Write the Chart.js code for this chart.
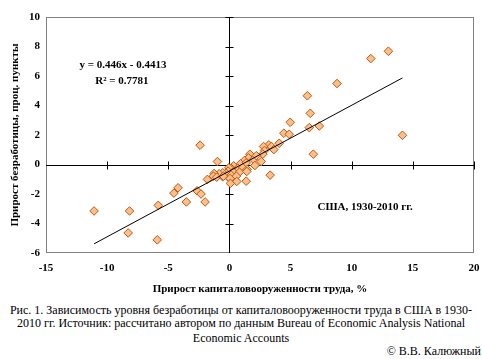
<!DOCTYPE html>
<html lang="ru">
<head>
    <meta charset="UTF-8">
    <title>Безработица и капиталовооруженность, США</title>
    <style>
        * { margin: 0; padding: 0; box-sizing: border-box; }
        body { background: #fff; width: 482px; height: 359px; overflow: hidden; }
        .wrap { position: relative; width: 482px; height: 359px; font-family: 'Liberation Serif', 'Times New Roman', serif; }
        .chart-box { position: absolute; left: 0; top: 0; width: 482px; height: 300px; }
        .cap { position: absolute; left: 0; width: 482px; text-align: center; font-size: 12px; line-height: 14px; color: #000; white-space: nowrap; }
        .copy { position: absolute; right: 1px; top: 344px; font-size: 12px; line-height: 14px; }
    </style>
</head>
<body>
<div class="wrap">
    <div class="chart-box"><canvas id="chart" width="482" height="300"></canvas></div>
    <div class="cap" style="top:303px">Рис. 1. Зависимость уровня безработицы от капиталовооруженности труда в США в 1930-</div>
    <div class="cap" style="top:316px">2010 гг. Источник: рассчитано автором по данным Bureau of Economic Analysis National</div>
    <div class="cap" style="top:331px">Economic Accounts</div>
    <div class="copy">© В.В. Калюжный</div>
</div>

<script src="https://cdn.jsdelivr.net/npm/chart.js"></script>
<script>
    // прирост капиталовооруженности труда, %
    const capitalGrowth = [
        -11.07, -8.17, -8.28, -5.90, -5.82, -3.52, -4.54, -4.20, -2.65, -2.32,
        -1.99, -2.40, -0.98, -1.80, 11.56, 13.00, 8.80, 6.37, 6.61, 4.97,
        6.53, 7.35, 4.45, 4.89, 14.15, 6.86, 3.33, 1.37, 4.07, 3.22,
        3.44, 2.79, 3.63, 2.87, 1.67, 2.73, 1.56, 1.97, 2.60, 1.23,
        0.90, 1.37, 2.08, 0.35, 0.68, 1.09, 1.45, 0.14, -0.05, -0.11,
        0.33, 0.82, 1.42, -0.27, -0.55, -0.84, -1.25, -1.31, -1.04, -0.55,
        -0.19, 0.14, 0.57, 0.05, 0.60, 0.08, -0.49, 2.20
    ];
    // прирост безработицы, проц. пункты
    const unemploymentGrowth = [
        -3.15, -3.15, -4.64, -5.11, -2.77, -2.54, -1.94, -1.58, -1.78, -2.00,
        -2.54, 1.31, 0.20, -1.01, 7.18, 7.68, 5.49, 4.66, 3.47, 2.86,
        2.50, 2.61, 2.12, 2.05, 1.98, 0.70, -0.72, -1.13, 1.44, 1.33,
        1.22, 1.22, 1.01, 0.95, 0.70, 0.70, 0.45, 0.34, 0.20, 0.27,
        0.05, 0.11, -0.07, -0.09, -0.25, -0.22, -0.34, -0.27, -0.22, -0.45,
        -0.52, -0.52, -0.47, -0.59, -0.56, -0.63, -0.61, -0.79, -0.86, -0.83,
        -0.79, -0.72, -0.79, -0.95, -1.15, -1.28, -0.79, 0.60
    ];
    // линейный тренд
    const slope = 0.446;
    const intercept = -0.4413;
    const rSquared = 0.7781;

    const xTicksStep = 5, yTicksStep = 2;
    const serif = "'Liberation Serif', 'Times New Roman', serif";

    const points = capitalGrowth.map((x, i) => ({ x: x, y: unemploymentGrowth[i] }));
    const xMin = Math.min(...capitalGrowth), xMax = Math.max(...capitalGrowth);
    const trend = [xMin, xMax].map(x => ({ x: x, y: slope * x + intercept }));

    // рамка, оси через ноль и подписи
    const decor = {
        id: 'decor',
        beforeDatasetsDraw(chart) {
            const { ctx, chartArea: a, scales: { x, y } } = chart;
            ctx.save();
            ctx.strokeStyle = '#808080';
            ctx.lineWidth = 1;
            ctx.strokeRect(a.left + 0.5, a.top + 0.5, a.width - 1, a.height - 1);

            const x0 = Math.round(x.getPixelForValue(0)) + 0.5;
            const y0 = Math.round(y.getPixelForValue(0)) + 0.5;
            ctx.strokeStyle = '#000';
            ctx.beginPath();
            ctx.moveTo(a.left, y0); ctx.lineTo(a.right, y0);
            ctx.moveTo(x0, a.top); ctx.lineTo(x0, a.bottom);
            for (let v = x.min + xTicksStep; v <= x.max; v += xTicksStep) {
                const px = Math.round(x.getPixelForValue(v)) + 0.5;
                ctx.moveTo(px, y0 - 4); ctx.lineTo(px, y0 + 4);
            }
            for (let v = y.min + yTicksStep; v < y.max + 0.01; v += yTicksStep) {
                const py = Math.round(y.getPixelForValue(v)) + 0.5;
                ctx.moveTo(x0 - 4, py); ctx.lineTo(x0 + 4, py);
            }
            ctx.stroke();
            ctx.restore();
        },
        afterDraw(chart) {
            const { ctx, scales: { x, y } } = chart;
            ctx.save();
            ctx.fillStyle = '#000';
            ctx.textAlign = 'center';
            ctx.textBaseline = 'middle';
            ctx.font = 'bold 11px ' + serif;
            ctx.fillText('y = ' + slope + 'x - ' + Math.abs(intercept), x.getPixelForValue(-8.7), y.getPixelForValue(6.75));
            ctx.fillText('R² = ' + rSquared, x.getPixelForValue(-8.8), y.getPixelForValue(5.65));
            ctx.fillText('США, 1930-2010 гг.', x.getPixelForValue(11.1), y.getPixelForValue(-2.9));
            ctx.restore();
        }
    };

    new Chart(document.getElementById('chart'), {
        type: 'scatter',
        data: {
            datasets: [
                {
                    data: points,
                    pointStyle: 'rectRot',
                    radius: 4.3,
                    hoverRadius: 4.3,
                    backgroundColor: '#F9BF8C',
                    borderColor: '#C0580F',
                    borderWidth: 1,
                    order: 2
                },
                {
                    type: 'line',
                    data: trend,
                    borderColor: '#000',
                    borderWidth: 1,
                    pointRadius: 0,
                    fill: false,
                    order: 1
                }
            ]
        },
        options: {
            responsive: false,
            animation: false,
            layout: { padding: { top: 17, right: 8, left: 0, bottom: 0 } },
            plugins: { legend: { display: false }, tooltip: { enabled: false } },
            scales: {
                x: {
                    type: 'linear',
                    min: -15, max: 20,
                    grid: { display: false, drawTicks: false },
                    border: { display: false },
                    ticks: { stepSize: xTicksStep, maxRotation: 0, autoSkip: false, padding: 9, color: '#000', font: { family: serif, size: 11, weight: 'bold' } },
                    title: { display: true, text: 'Прирост капиталовооруженности труда, %', color: '#000', font: { family: serif, size: 11, weight: 'bold' }, padding: { top: 4, bottom: 4 } },
                    afterFit: s => { s.height = 47; s.paddingLeft = 0; s.paddingRight = 0; }
                },
                y: {
                    min: -6, max: 10,
                    grid: { display: false, drawTicks: false },
                    border: { display: false },
                    ticks: { stepSize: yTicksStep, padding: 6, color: '#000', font: { family: serif, size: 11, weight: 'bold' } },
                    title: { display: true, text: 'Прирост безработицы, проц. пункты', color: '#000', font: { family: serif, size: 11, weight: 'bold' }, padding: { top: 9, bottom: 0 } },
                    afterFit: s => { s.width = 46; s.paddingTop = 0; s.paddingBottom = 0; }
                }
            }
        },
        plugins: [decor]
    });
</script>
</body>
</html>
